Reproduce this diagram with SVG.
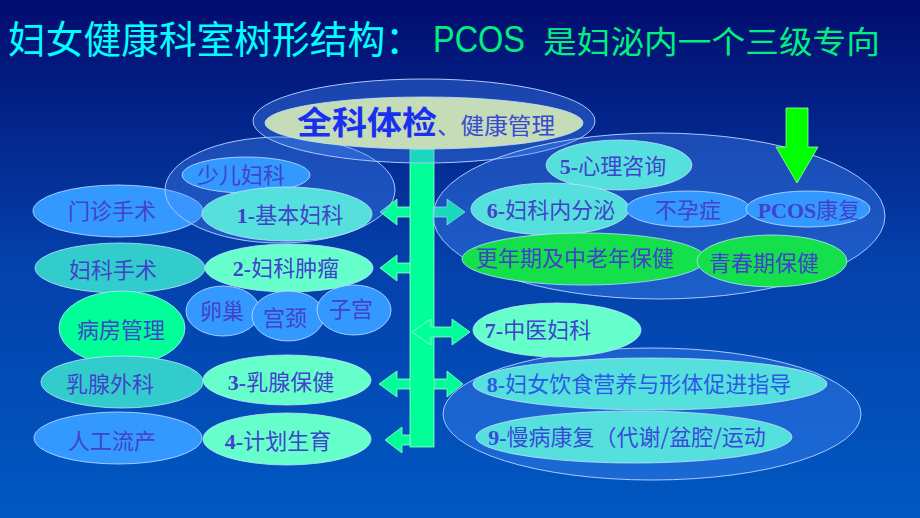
<svg xmlns="http://www.w3.org/2000/svg" width="920" height="518" viewBox="0 0 920 518">
<defs>
<linearGradient id="bg" x1="0" y1="0" x2="0" y2="1">
<stop offset="0" stop-color="#020c6e"/>
<stop offset="0.5" stop-color="#0440aa"/>
<stop offset="1" stop-color="#0058c2"/>
</linearGradient>
<style>
.cn{font-family:"Noto Sans CJK SC","Noto Sans",sans-serif;}
.t{font-family:"Noto Sans CJK SC","Noto Sans",sans-serif;font-size:22px;fill:#4242cc;text-anchor:middle;}
.d{font-family:"Liberation Serif",serif;font-weight:bold;}
.big{fill:#4a90ff;fill-opacity:0.35;stroke:#a8c8ff;stroke-width:1;}
.n{stroke:#c0e0ff;stroke-width:1;stroke-opacity:0.8;}
.blue{fill:#3399ff;}
.tq{fill:#55e0dd;}
.mint{fill:#66ffcc;}
.teal{fill:#33cccc;}
.sg{fill:#00ff99;}
.gr{fill:#14e04c;}
.arr{fill:#00ff99;stroke:#a0ffd0;stroke-width:0.8;}
</style>
</defs>
<rect width="920" height="518" fill="url(#bg)"/>

<g id="title">
<text x="8" y="53" class="cn" font-size="38" fill="#00ffff" textLength="415" lengthAdjust="spacingAndGlyphs">妇女健康科室树形结构：</text>
<text x="433" y="52" font-family="Liberation Sans,Arial,sans-serif" font-size="37" fill="#00f080" textLength="92" lengthAdjust="spacingAndGlyphs">PCOS</text>
<text x="543" y="53" class="cn" font-size="31" fill="#00f080" textLength="337" lengthAdjust="spacingAndGlyphs">是妇泌内一个三级专向</text>
</g>

<g id="connectors">
<polygon class="arr" points="379,384 397,371 397,379 447,379 447,371 463,384 447,397 447,389 397,389 397,397"/>
<rect x="410" y="149" width="24" height="298" class="arr"/>
<polygon class="arr" points="380,212 397,199 397,207 410,207 410,217 397,217 397,225"/>
<polygon class="arr" points="465,212 447,199 447,207 434,207 434,217 447,217 447,225"/>
<polygon class="arr" points="380,268 397,255 397,263 410,263 410,273 397,273 397,281"/>
<polygon class="arr" points="412,332 431,319 431,327 452,327 452,319 470,332 452,345 452,337 431,337 431,345"/>
<polygon class="arr" points="385,440 402,427 402,435 410,435 410,445 402,445 402,453"/>
</g>

<g id="n-mzss"><ellipse cx="118" cy="211" rx="85" ry="26" class="n blue"/><text x="112" y="219" class="t">门诊手术</text></g>
<g id="g-left"><ellipse cx="280" cy="190" rx="115" ry="53" class="big"/></g>
<g id="n-top">
<ellipse cx="424" cy="121" rx="171" ry="42" class="big"/>
<ellipse cx="424" cy="123" rx="159" ry="26" fill="#c4dcb8" class="n"/>
<text x="297" y="134" class="cn" font-size="32" font-weight="bold" fill="#1a30f0" textLength="140" lengthAdjust="spacingAndGlyphs">全科体检</text>
<text x="437" y="134" class="cn" font-size="23" fill="#3a4ad0" textLength="118" lengthAdjust="spacingAndGlyphs">、健康管理</text>
</g>
<g id="n-seke"><ellipse cx="246" cy="175" rx="64" ry="18" class="n blue"/><text x="241" y="183" class="t">少儿妇科</text></g>
<g id="n1"><ellipse cx="287" cy="214" rx="85" ry="27" class="n tq"/><text x="290" y="223" class="t"><tspan class="d">1-</tspan>基本妇科</text></g>
<g id="n-fkss"><ellipse cx="120" cy="268" rx="85" ry="25" class="n teal"/><text x="113" y="278" class="t">妇科手术</text></g>
<g id="n2"><ellipse cx="289" cy="268" rx="84" ry="24" class="n mint"/><text x="286" y="276" class="t"><tspan class="d">2-</tspan>妇科肿瘤</text></g>
<g id="n-lc"><ellipse cx="223" cy="311" rx="37" ry="25" class="n blue"/><text x="222" y="319" class="t">卵巢</text></g>
<g id="n-gj"><ellipse cx="288" cy="316" rx="36" ry="25" class="n blue"/><text x="285" y="326" class="t">宫颈</text></g>
<g id="n-zg"><ellipse cx="354" cy="310" rx="37" ry="25" class="n blue"/><text x="351" y="317" class="t">子宫</text></g>
<g id="n-bfgl"><ellipse cx="122" cy="328" rx="63" ry="37" class="n sg"/><text x="121" y="338" class="t">病房管理</text></g>
<g id="n-rxwk"><ellipse cx="122" cy="382" rx="81" ry="26" class="n teal"/><text x="110" y="392" class="t">乳腺外科</text></g>
<g id="n3"><ellipse cx="287" cy="380" rx="84" ry="25" class="n mint"/><text x="281" y="390" class="t"><tspan class="d">3-</tspan>乳腺保健</text></g>
<g id="n-rgll"><ellipse cx="118" cy="438" rx="84" ry="26" class="n blue"/><text x="112" y="449" class="t">人工流产</text></g>
<g id="n4"><ellipse cx="287" cy="439" rx="84" ry="26" class="n mint"/><text x="278" y="449" class="t"><tspan class="d">4-</tspan>计划生育</text></g>

<g id="g-right"><ellipse cx="659" cy="216" rx="226" ry="83" class="big"/></g>
<g id="n5"><ellipse cx="619" cy="165" rx="73" ry="25" class="n tq"/><text x="613" y="174" class="t"><tspan class="d">5-</tspan>心理咨询</text></g>
<g id="n6"><ellipse cx="550" cy="209" rx="79" ry="26" class="n tq"/><text x="551" y="218" class="t"><tspan class="d">6-</tspan>妇科内分泌</text></g>
<g id="n-byz"><ellipse cx="688" cy="209" rx="62" ry="18" class="n blue"/><text x="688" y="218" class="t">不孕症</text></g>
<g id="n-pcos"><ellipse cx="808" cy="209" rx="62" ry="18" class="n blue"/><text x="809" y="218" class="t" font-size="21"><tspan class="d">PCOS</tspan>康复</text></g>
<g id="n-gnq"><ellipse cx="584" cy="259" rx="122" ry="26" class="n gr"/><text x="575" y="266" class="t">更年期及中老年保健</text></g>
<g id="n-qcq"><ellipse cx="772" cy="261" rx="75" ry="26" class="n gr"/><text x="764" y="271" class="t">青春期保健</text></g>
<g id="pcos-arrow"><polygon points="786,108 808,108 808,147 818,147 797,183 776,147 786,147" fill="#00ff00" stroke="#a0ffa0" stroke-width="0.8"/></g>

<g id="g-bottom"><ellipse cx="652" cy="414" rx="209" ry="66" class="big"/></g>
<g id="n7"><ellipse cx="557" cy="330" rx="84" ry="27" class="n mint"/><text x="538" y="338" class="t" fill="#2a50e0"><tspan class="d">7-</tspan>中医妇科</text></g>
<g id="n8"><ellipse cx="650" cy="384" rx="177" ry="26" class="n tq"/><text x="639" y="392" class="t" style="fill:#2a5ae6" font-size="23"><tspan class="d">8-</tspan>妇女饮食营养与形体促进指导</text></g>
<g id="n9"><ellipse cx="634" cy="437" rx="158" ry="26" class="n tq"/><text x="627" y="445" class="t" style="fill:#3a4ad8"><tspan class="d">9-</tspan>慢病康复（代谢/盆腔/运动</text></g>
</svg>
